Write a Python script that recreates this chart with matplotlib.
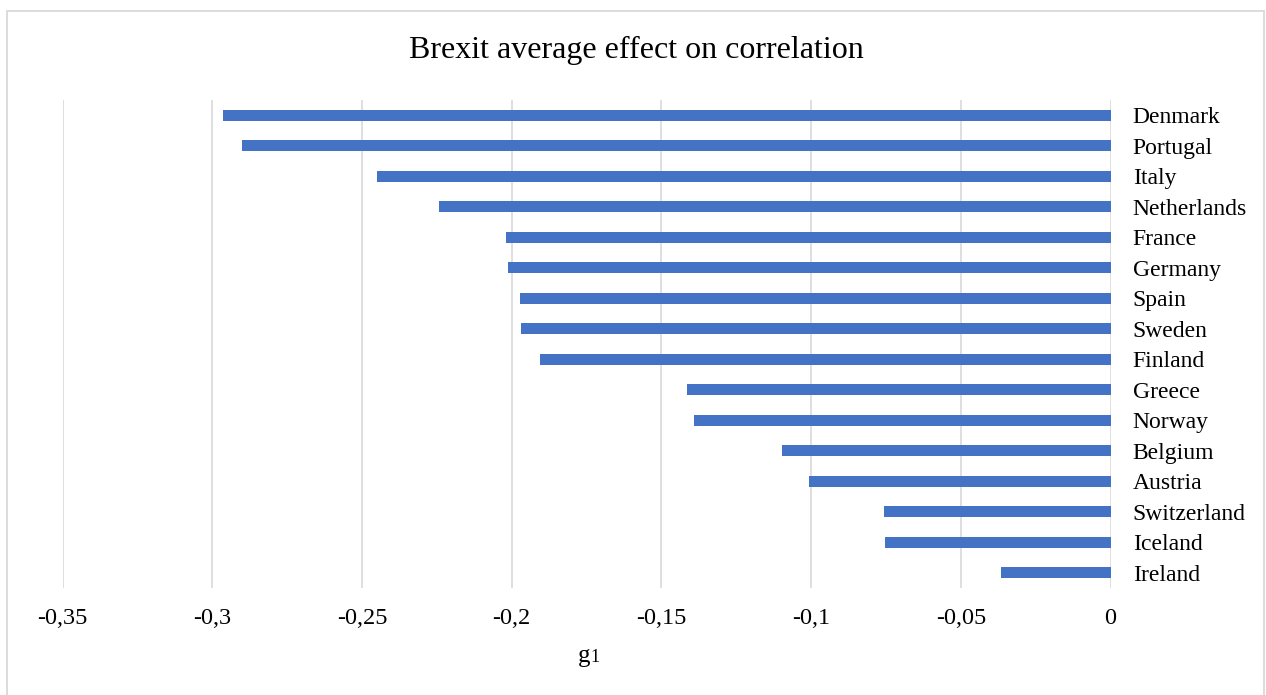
import matplotlib
matplotlib.use("Agg")
import matplotlib.pyplot as plt
from matplotlib.patches import Rectangle
from matplotlib.ticker import FixedLocator, FuncFormatter

countries = ["Denmark", "Portugal", "Italy", "Netherlands", "France", "Germany",
             "Spain", "Sweden", "Finland", "Greece", "Norway", "Belgium",
             "Austria", "Switzerland", "Iceland", "Ireland"]
effects = [-0.2963, -0.2901, -0.2449, -0.2243, -0.2018, -0.2011,
           -0.1972, -0.1970, -0.1905, -0.1413, -0.1391, -0.1096,
           -0.1006, -0.0756, -0.0753, -0.0366]
xticks = [-0.35, -0.30, -0.25, -0.20, -0.15, -0.10, -0.05, 0.0]

W, H = 1266, 695
plt.rcParams["font.family"] = ["Liberation Serif", "DejaVu Serif"]

fig = plt.figure(figsize=(W / 100, H / 100), dpi=100)
fig.patch.set_facecolor("white")

# outer chart frame
fig.add_artist(Rectangle((7 / W, -0.01), (1264 - 7) / W, (H - 10.5) / H + 0.01,
                         transform=fig.transFigure, fill=False,
                         edgecolor="#D9D9D9", linewidth=1.3))

left, right, top, bottom = 62.6, 1110.5, 100, 588
ax = fig.add_axes([left / W, 1 - bottom / H, (right - left) / W, (bottom - top) / H])

ypos = list(range(len(countries)))
ax.barh(ypos, effects, height=0.35, color="#4472C4", zorder=3)

ax.set_xlim(-0.35, 0)
ax.set_ylim(len(countries) - 0.5, -0.5)

ax.xaxis.set_major_locator(FixedLocator(xticks))
ax.xaxis.set_major_formatter(FuncFormatter(
    lambda v, p: "0" if abs(v) < 1e-9 else f"{v:.2f}".rstrip("0").replace(".", ",")))
ax.grid(axis="x", color="#D9D9D9", linewidth=1.2, zorder=0)
ax.tick_params(axis="x", length=0, pad=14.5, labelsize=17.5)

ax.yaxis.tick_right()
ax.set_yticks(ypos)
ax.set_yticklabels(countries)
ax.tick_params(axis="y", length=0, pad=16, labelsize=17)

for s in ax.spines.values():
    s.set_visible(False)

fig.text(636.5 / W, 1 - 58 / H, "Brexit average effect on correlation",
         ha="center", va="baseline", fontsize=23)

# x-axis title "g1" with a smaller index digit
fig.text(590 / W, 1 - 662 / H, "g", ha="right", va="baseline", fontsize=18)
fig.text(590.5 / W, 1 - 662 / H, "1", ha="left", va="baseline", fontsize=13)

fig.savefig("out.png", dpi=100, facecolor="white")
